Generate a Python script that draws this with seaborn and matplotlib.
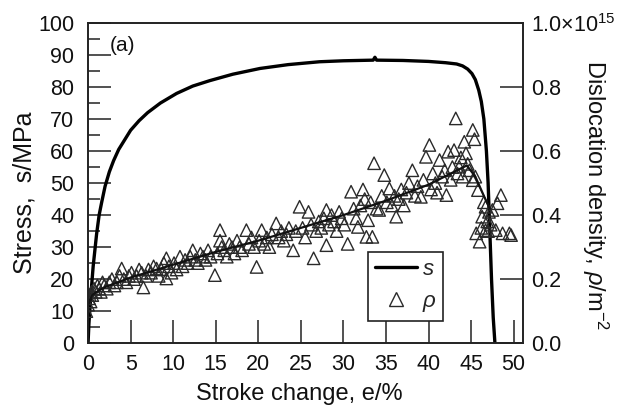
import numpy as np
import pandas as pd
import seaborn as sns
from matplotlib import pyplot as plt
from matplotlib.lines import Line2D
from matplotlib.ticker import MultipleLocator, FixedLocator, FuncFormatter

# stress curve (strain %, MPa)
stress_strain = [0.0, 0.05, 0.1, 0.2, 0.3, 0.45, 0.6, 0.8, 1.0, 1.3, 1.6, 2.0, 2.5, 3.0,
                 3.6, 4.3, 5.0, 6.0, 7.0, 8.5, 10.4, 12.3, 14.3, 17.0, 20.2, 23.5, 27.2,
                 30.0, 33.5, 33.7, 33.9, 37.0, 40.0, 42.0, 43.3, 44.0, 44.6, 45.1, 45.5,
                 45.9, 46.2, 46.5, 46.8, 47.0, 47.2, 47.4, 47.6, 47.8]
stress_mpa = [0, 3, 6, 10, 14, 19, 24, 29, 34, 40, 44, 49, 53.5, 57,
              60.5, 63.5, 66.5, 69.5, 72, 75, 78, 80.3, 82, 84, 85.8, 87, 87.9,
              88.2, 88.4, 89.3, 88.4, 88.3, 88.0, 87.6, 87.2, 86.6, 85.6, 84.2, 82.3,
              79.0, 75.5, 70.0, 60.0, 50.0, 35.0, 20.0, 8.0, 0.0]

# dislocation density points (strain %, x1e15 m^-2)
rho_strain = [-0.2, 0.0, 0.1, 0.2, 0.3, 0.4, 0.5, 0.7, 0.9, 1.1, 1.3, 1.5, 1.7, 1.9, 2.2, 2.5,
              2.8, 3.1, 3.4, 3.7, 3.95, 4.2, 4.5, 4.8,
              5.1, 5.4, 5.7, 6.0, 6.3, 6.5, 6.8, 7.1, 7.4, 7.7, 8.05, 8.3, 8.6, 8.9, 9.2, 9.2,
              9.5, 9.8,
              10.1, 10.4, 10.8, 11.1, 11.4, 11.7, 12.0, 12.3, 12.6, 12.9, 13.2, 13.5, 13.8,
              14.1, 14.4, 14.9, 15.2, 15.5, 15.5, 15.7,
              16.0, 16.3, 16.6, 16.9, 17.2, 17.5, 17.8, 18.1, 18.6, 18.9, 19.2, 19.5, 19.8,
              20.1, 20.4,
              20.7, 21.0, 21.3, 21.6, 22.1, 22.4, 22.7, 23.0, 23.3, 23.6, 24.1, 24.4, 24.85,
              25.2, 25.5,
              25.9, 26.2, 26.5, 26.8, 27.1, 27.4, 27.7, 28.0, 28.0, 28.3, 28.6, 28.9, 29.2,
              29.5, 29.8, 30.1,
              30.5, 30.9, 31.2, 31.5, 31.7, 32.0, 32.3, 32.5, 32.7, 32.9, 33.2, 33.4, 33.6,
              33.9, 34.2, 34.5, 34.8, 35.1,
              35.4, 35.7, 36.0, 36.2, 36.5, 36.8, 37.1, 37.4, 37.7, 38.1, 38.4, 38.7, 39.1,
              39.4, 39.7, 40.1,
              40.3, 40.5, 40.8, 41.0, 41.3, 41.6, 41.9, 42.1, 42.3, 42.6, 42.8, 43.0, 43.2,
              43.4, 43.6, 43.8, 44.0, 44.2, 44.4, 44.6, 44.8, 45.2, 45.4, 45.2, 45.5, 45.8,
              45.6, 46.0, 46.3, 46.5, 46.7, 46.7, 46.9, 47.1, 47.3, 47.5, 47.9, 48.1, 48.5,
              48.7, 49.5, 49.7, 47.0, 46.2]
rho_density = [0.10, 0.12, 0.14, 0.15, 0.13, 0.16, 0.15, 0.17, 0.16, 0.18, 0.17, 0.16, 0.19,
               0.18, 0.17, 0.19, 0.20, 0.18, 0.19, 0.21, 0.233, 0.20, 0.19, 0.21,
               0.22, 0.20, 0.21, 0.23, 0.22, 0.174, 0.21, 0.23, 0.22, 0.24, 0.233, 0.21, 0.23,
               0.25, 0.202, 0.265, 0.24, 0.22,
               0.25, 0.23, 0.27, 0.24, 0.26, 0.25, 0.27, 0.29, 0.26, 0.25, 0.28, 0.27, 0.26,
               0.29, 0.27, 0.2125, 0.28, 0.353, 0.32, 0.30,
               0.29, 0.27, 0.31, 0.30, 0.28, 0.32, 0.30, 0.29, 0.353, 0.31, 0.33, 0.30, 0.238,
               0.32, 0.353,
               0.31, 0.33, 0.30, 0.34, 0.374, 0.33, 0.35, 0.32, 0.34, 0.36, 0.29, 0.35, 0.426,
               0.36, 0.33,
               0.41, 0.37, 0.265, 0.35, 0.38, 0.36, 0.39, 0.416, 0.306, 0.37, 0.40, 0.38, 0.35,
               0.41, 0.39, 0.37,
               0.31, 0.473, 0.42, 0.39, 0.363, 0.43, 0.48, 0.45, 0.332, 0.384, 0.44, 0.332,
               0.562, 0.42, 0.416, 0.46, 0.525, 0.44,
               0.483, 0.43, 0.46, 0.395, 0.45, 0.48, 0.43, 0.47, 0.50, 0.54, 0.46, 0.49, 0.457,
               0.51, 0.582, 0.619,
               0.48, 0.53, 0.50, 0.47, 0.572, 0.52, 0.54, 0.4625, 0.598, 0.51, 0.55, 0.603,
               0.702, 0.53, 0.551, 0.58, 0.52, 0.629, 0.593, 0.56, 0.54, 0.666, 0.637, 0.509,
               0.52, 0.478,
               0.343, 0.317, 0.395, 0.44, 0.426, 0.353, 0.38, 0.41, 0.37, 0.416, 0.353, 0.437,
               0.4625, 0.343, 0.343, 0.3375, 0.35, 0.36]

# trend line through density points
fit_strain = [0, 0.5, 1, 2, 5, 10, 15, 20, 25, 30, 35, 40, 43, 44.5, 45.5, 46.5, 47.2]
fit_density = [0.12, 0.15, 0.16, 0.175, 0.205, 0.245, 0.285, 0.32, 0.36, 0.40, 0.445,
               0.495, 0.535, 0.555, 0.52, 0.46, 0.42]

df_s = pd.DataFrame({"strain": stress_strain, "stress": stress_mpa})
df_r = pd.DataFrame({"strain": rho_strain, "rho": rho_density})
df_f = pd.DataFrame({"strain": fit_strain, "rho": fit_density})

sns.set_theme(style="ticks")
plt.rcParams["font.family"] = ["Liberation Sans", "DejaVu Sans"]
plt.rcParams["mathtext.fontset"] = "custom"
plt.rcParams["mathtext.it"] = "Liberation Sans:italic"
plt.rcParams["mathtext.rm"] = "Liberation Sans"

fig = plt.figure(figsize=(6.29, 4.08), dpi=100)
ax = fig.add_axes([0.14, 0.159, 0.6915, 0.7846])
ax2 = ax.twinx()

sns.lineplot(data=df_s, x="strain", y="stress", ax=ax, color="black", lw=2.4, sort=False)
sns.scatterplot(data=df_r, x="strain", y="rho", ax=ax2, marker="^", s=80,
                facecolors="none", edgecolor="#2a2a2a", linewidth=1.0)
sns.lineplot(data=df_f, x="strain", y="rho", ax=ax2, color="#111111", lw=1.6, sort=False)

ax.set_xlim(0, 51.1)
ax.set_ylim(0, 100)
ax2.set_ylim(0, 1.0)

ax.xaxis.set_major_locator(MultipleLocator(5))
ax.yaxis.set_major_locator(MultipleLocator(10))
ax.yaxis.set_minor_locator(MultipleLocator(5))
ax2.yaxis.set_major_locator(FixedLocator([0, 0.2, 0.4, 0.6, 0.8, 1.0]))
ax2.yaxis.set_major_formatter(FuncFormatter(
    lambda v, p: r"1.0×10$^{15}$" if v > 0.99 else f"{v:.1f}"))

ax.tick_params(axis="both", which="major", direction="in", length=16.5, width=1.1,
               labelsize=15.5, color="#222222", labelcolor="#111111")
ax.tick_params(axis="y", which="minor", direction="in", length=8.5, width=1.1,
               color="#222222")
ax.tick_params(axis="y", pad=10)
ax.tick_params(axis="x", pad=8)
ax2.tick_params(axis="y", which="major", direction="in", length=16.5, width=1.1,
                labelsize=15.5, pad=6, color="#222222", labelcolor="#111111")

for a in (ax, ax2):
    for sp in a.spines.values():
        sp.set_linewidth(1.2)
        sp.set_color("#222222")

ax.set_xlabel("Stroke change, e/%", fontsize=17, va="center", color="#111111")
ax.xaxis.set_label_coords(0.486, -0.16)
ax.set_ylabel("Stress,  s/MPa", fontsize=18, va="center", color="#111111")
ax.yaxis.set_label_coords(-0.147, 0.47)
ax2.set_ylabel(r"Dislocation density, $\rho$/m$^{-2}$", fontsize=17, rotation=-90,
               va="center", ha="center", color="#111111")
ax2.yaxis.set_label_coords(1.166, 0.4625)

ax.text(2.6, 93, "(a)", fontsize=15, ha="left", va="center", color="#111111")

handles = [Line2D([], [], color="black", lw=2.4),
           Line2D([], [], ls="none", marker="^", ms=10, mfc="none", mec="#2a2a2a", mew=1.0)]
leg = ax2.legend(handles, [r"$s$", r"$\rho$"], loc="upper left",
                 bbox_to_anchor=(0.644, 0.284), fontsize=16, frameon=True,
                 fancybox=False, handlelength=1.9, handletextpad=0.2,
                 borderpad=0.3, labelspacing=0.5, borderaxespad=0)
leg.get_frame().set_edgecolor("#222222")
leg.get_frame().set_linewidth(1.2)
leg.get_frame().set_alpha(1)

fig.savefig("out.png", dpi=100)
